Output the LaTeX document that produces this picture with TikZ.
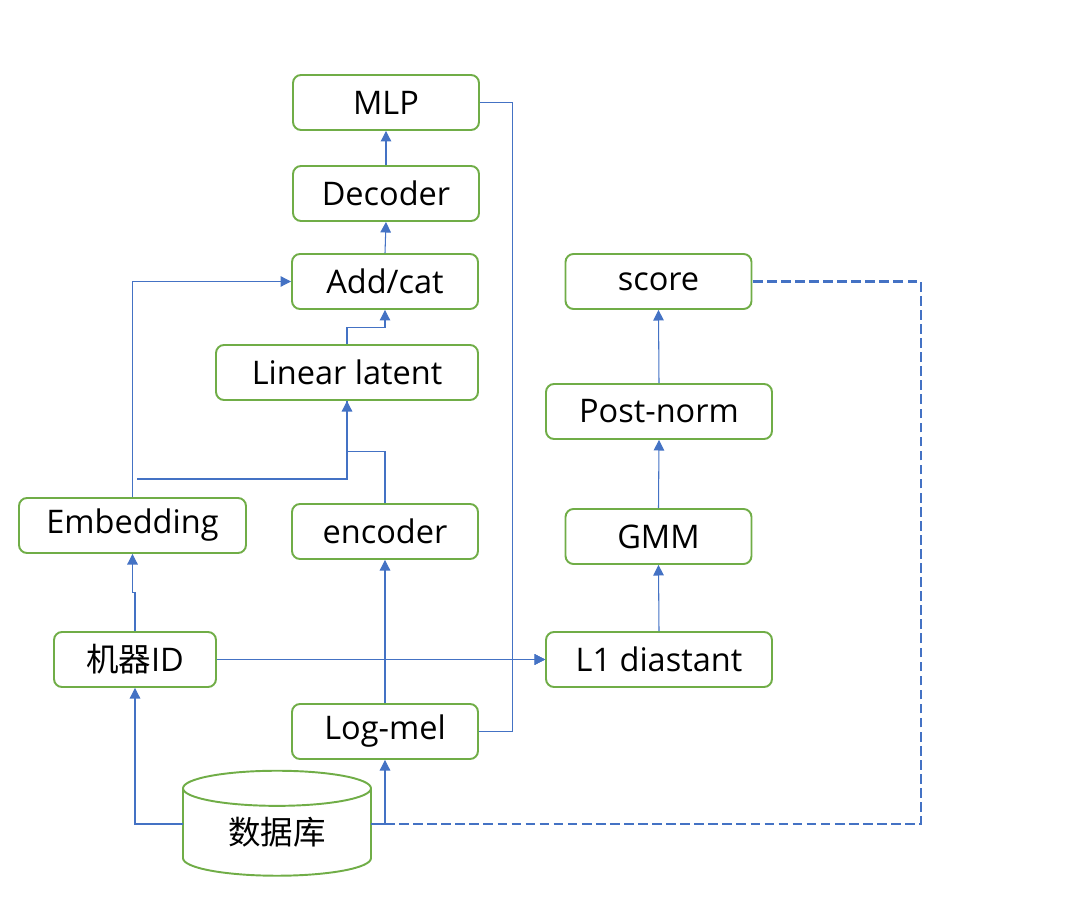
\documentclass[tikz,border=0pt]{standalone}
\usepackage{fontspec}
\setmainfont{Open Sans}
\newfontfamily\cjk{Noto Sans CJK SC}
\usetikzlibrary{arrows.meta,shapes.geometric,positioning}
\definecolor{grn}{HTML}{70AD47}
\definecolor{blu}{HTML}{4472C4}

\begin{document}
\begin{tikzpicture}[x=0.02cm,y=0.02cm,
    box/.style={draw=grn,line width=1.1pt,rounded corners=0.16cm,minimum width=3.72cm,minimum height=1.1cm,inner sep=0pt,font=\fontsize{18.5}{21}\selectfont},
    dbase/.style={cylinder,shape border rotate=90,draw=grn,line width=1.1pt,aspect=0.36,minimum width=3.76cm,minimum height=2.1cm,inner sep=0pt,font=\fontsize{18.5}{21}\selectfont},
    arr/.style={draw=blu,line width=0.6pt,-{Triangle[length=6pt,width=6pt]}},
    ln/.style={draw=blu,line width=0.6pt},
    dsh/.style={draw=blu,line width=1.6pt,dash pattern=on 5.5pt off 2.5pt}]
    \useasboundingbox (0,0) rectangle (1092,-918);

    % left column
    \node[box] at (386,-102.5) (mlp) {MLP};
    \node[box] at (386,-193.5) (dec) {Decoder};
    \node[box] at (385,-281.5) (add) {Add/cat};
    \node[box,minimum width=5.24cm] at (347,-372.5) (lin) {Linear latent};
    \node[box,minimum width=4.54cm] at (132.5,-525.5) (emb) {Embedding};
    \node[box] at (385,-531.5) (enc) {encoder};
    \node[box,minimum width=3.24cm] at (135,-659.5) (id) {{\cjk 机器}ID};
    \node[box] at (385,-731.5) (mel) {Log-mel};
    \node[dbase] at (277,-832.5) (db) {{\cjk 数据库}};

    % right column
    \node[box] at (658.5,-281.5) (score) {score};
    \node[box,minimum width=4.52cm] at (659,-411.5) (pn) {Post-norm};
    \node[box] at (658.5,-536.5) (gmm) {GMM};
    \node[box,minimum width=4.52cm] at (659,-659.5) (l1) {L1 diastant};

    \path[arr] (dec.north) -- (mlp.south);
    \path[arr] (add.north) -- (dec.south);
    \path[arr] (lin.north) -- ++(0,17) -| (add.south);
    \path[arr] (enc.north) -- ++(0,52) -| (lin.south);
    \coordinate (f) at (137,-479);
    \path[ln] (f) -| (lin.south);
    \path[arr] (emb.north) |- (add.west);
    \path[arr] (id.north) -- ++(0,39) -| (emb.south);
    \coordinate (dbw) at (183,-824);
    \coordinate (dbe) at (371,-824);
    \path[arr] (dbw) -| (id.south);
    \path[arr] (dbe) -| (mel.south);
    \path[arr] (mel.north) -- (enc.south);
    \path[arr] (id.east) -- (l1.west);
    \path[arr] (mel.east) -- ++(34,0) |- (l1.west);
    \path[arr] (mlp.east) -- ++(33,0) |- (l1.west);
    \path[arr] (l1.north) -- (gmm.south);
    \path[arr] (gmm.north) -- (pn.south);
    \path[arr] (pn.north) -- (score.south);
    \path[dsh] (dbe) -- ++(550,0) |- (score.east);
\end{tikzpicture}
\end{document}
